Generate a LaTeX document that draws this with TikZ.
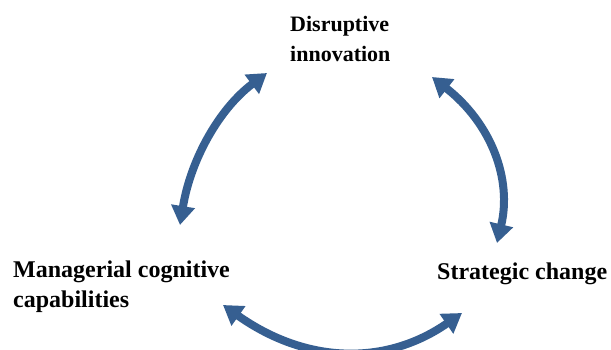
\documentclass[tikz,border=0pt]{standalone}
\usepackage{fontspec}
\setmainfont{Liberation Serif}
\usetikzlibrary{arrows.meta}
\definecolor{arrowblue}{RGB}{54,95,145}
\begin{document}
\begin{tikzpicture}[
  x=1pt, y=-1pt,
  label/.style={font=\bfseries\fontsize{24}{30}\selectfont, align=left, inner sep=0pt},
  link/.style={arrowblue, line width=8pt, {Triangle[width=23pt,length=19pt]}-{Triangle[width=23pt,length=19pt]}}
]
\useasboundingbox (0,0) rectangle (611,350);
% Concepts
\node[label,font=\bfseries\fontsize{22}{30}\selectfont,anchor=north west] (disruptive) at (290,16) {Disruptive\\innovation};
\node[label,anchor=north west] (managerial) at (13,261) {Managerial cognitive\\capabilities};
\node[label,anchor=north west] (strategic) at (437,263) {Strategic change};

% Arrow ends
\coordinate (leftlow) at (180,225);
\coordinate (lefthigh) at (267,73);
\coordinate (righthigh) at (432,77);
\coordinate (rightlow) at (497,243);
\coordinate (bottomleft) at (223,305);
\coordinate (bottomright) at (462,313);

% Arrows
\draw[link] (leftlow) .. controls (190.7,159) and (219.7,108.3) .. (lefthigh);
\draw[link] (righthigh) .. controls (490.7,123) and (512.3,178.3) .. (rightlow);
\draw[link] (bottomleft) .. controls (305.7,363.7) and (385.3,366.3) .. (bottomright);
\end{tikzpicture}
\end{document}
